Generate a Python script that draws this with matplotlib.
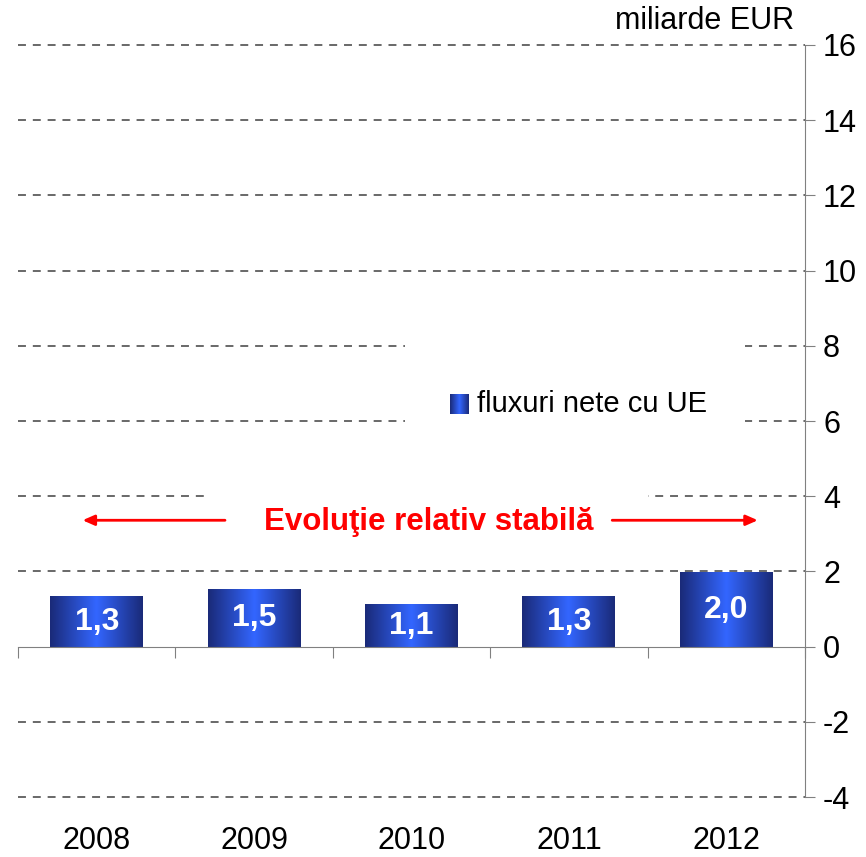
import numpy as np
import matplotlib
matplotlib.use('Agg')
import matplotlib.pyplot as plt
from matplotlib.colors import LinearSegmentedColormap
from matplotlib.patches import Rectangle

plt.rcParams['font.family'] = ['Liberation Sans', 'DejaVu Sans']

# data
years = ['2008', '2009', '2010', '2011', '2012']
net_flows = [1.35, 1.54, 1.12, 1.33, 1.97]
value_labels = ['1,3', '1,5', '1,1', '1,3', '2,0']
y_ticks = [-4, -2, 0, 2, 4, 6, 8, 10, 12, 14, 16]

fig = plt.figure(figsize=(8.66, 8.57), dpi=100)
ax = fig.add_axes([0.0208, 0.070, 0.9088, 0.8775])

x = np.arange(len(years))
bar_w = 0.59

# dashed gridlines
for yv in y_ticks:
    if yv == 0:
        continue
    ax.axhline(yv, color='#404040', lw=1.1, ls=(0, (5.2, 4.5)), zorder=1,
               clip_on=False)

# bars with horizontal gradient
cmap = LinearSegmentedColormap.from_list('bar', ['#1a2a78', '#3366ff', '#1a2a78'])
grad = np.linspace(0, 1, 256).reshape(1, -1)
bars = ax.bar(x, net_flows, width=bar_w, color='none', edgecolor='none', zorder=3)
for b, lab in zip(bars, value_labels):
    x0, w, h = b.get_x(), b.get_width(), b.get_height()
    ax.imshow(grad, cmap=cmap, aspect='auto', extent=(x0, x0 + w, 0, h),
              zorder=3, interpolation='bicubic')
    ax.text(x0 + w / 2, h / 2 - 0.02, lab, color='white', fontsize=23,
            fontweight='bold', ha='center', va='center', zorder=5)
ax.set_xlim(-0.5, len(years) - 0.5)
ax.set_ylim(-4, 16)

# axes styling
for s in ['top', 'left']:
    ax.spines[s].set_visible(False)
ax.spines['right'].set_color('#808080')
ax.spines['bottom'].set_color('#808080')
ax.spines['bottom'].set_position(('data', 0))
ax.spines['bottom'].set_zorder(4)

ax.yaxis.tick_right()
ax.set_yticks(y_ticks)
ax.set_yticklabels([str(v) for v in y_ticks])
ax.tick_params(axis='y', direction='out', length=7, color='#808080',
               labelsize=22, pad=6)

ax.set_xticks(np.arange(len(years) + 1) - 0.5)
ax.set_xticklabels([])
ax.tick_params(axis='x', direction='out', length=8, color='#808080')

for xi, yr in zip(x, years):
    ax.text(xi, -0.058, yr, transform=ax.get_xaxis_transform(), ha='center',
            va='center', fontsize=22)

ax.text(1.0 - 0.014, 1.032, 'miliarde EUR', transform=ax.transAxes, ha='right',
        va='center', fontsize=22)

# legend on white box
ax.add_patch(Rectangle((0.492, 0.49), 0.432, 0.12, transform=ax.transAxes,
                       facecolor='white', edgecolor='none', zorder=2))
ax.imshow(grad, cmap=cmap, aspect='auto', transform=ax.transAxes,
          extent=(0.549, 0.572, 0.509, 0.5346), zorder=3)
ax.text(0.583, 0.5225, 'fluxuri nete cu UE', transform=ax.transAxes,
        ha='left', va='center', fontsize=21, zorder=4)

# annotation with arrows
ax.add_patch(Rectangle((0.240, 0.315), 0.56, 0.106, transform=ax.transAxes,
                       facecolor='white', edgecolor='none', zorder=2))
ax.text(0.5225, 0.3657, 'Evoluţie relativ stabilă', transform=ax.transAxes,
        ha='center', va='center', fontsize=22.5, fontweight='bold',
        color='#ff0000', zorder=4)
arrow = dict(arrowstyle='-|>,head_length=0.5,head_width=0.22', color='#ff0000',
             lw=2, mutation_scale=14, shrinkA=0, shrinkB=0)
ax.annotate('', xy=(0.082, 0.368), xytext=(0.263, 0.368),
            xycoords='axes fraction', arrowprops=arrow, zorder=5)
ax.annotate('', xy=(0.940, 0.368), xytext=(0.755, 0.368),
            xycoords='axes fraction', arrowprops=arrow, zorder=5)

fig.savefig('out.png', dpi=100)
